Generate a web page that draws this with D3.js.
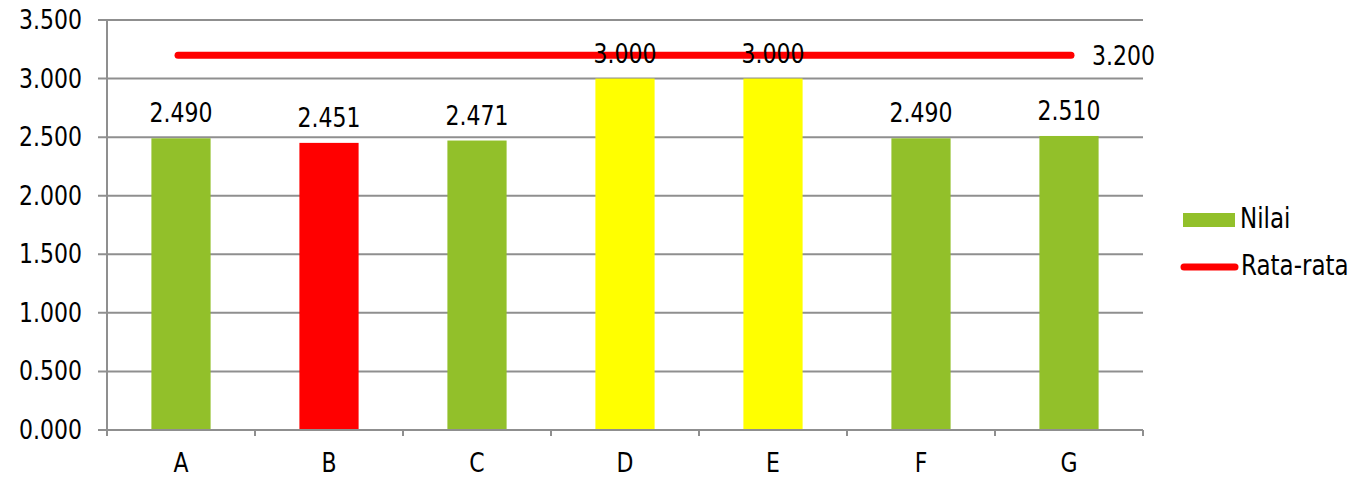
<!DOCTYPE html>
<html><head><meta charset="utf-8">
<script src="https://cdn.jsdelivr.net/npm/d3@7"></script>
<style>body{margin:0;background:#fff}svg{display:block}text{font-family:"DejaVu Sans",Verdana,sans-serif;fill:#000}</style>
</head><body>
<script>
const categories = ["A","B","C","D","E","F","G"];
const values = [2.490, 2.451, 2.471, 3.000, 3.000, 2.490, 2.510];
const barColors = ["#92C02A","#FF0000","#92C02A","#FFFF00","#FFFF00","#92C02A","#92C02A"];
const average = [3.2,3.2,3.2,3.2,3.2,3.2,3.2];
const yTicks = [0,0.5,1,1.5,2,2.5,3,3.5];
const legendLabels = ["Nilai","Rata-rata"];

const W=1358,H=478;
const L=107,R=1143,T=20,B=430;
const SY=1.2;
const svg=d3.select("body").append("svg").attr("width",W).attr("height",H);
const x=d3.scaleBand().domain(categories).range([L,R]).paddingInner(0).paddingOuter(0);
const y=d3.scaleLinear().domain([0,3.5]).range([B,T]);
const fmt=d3.format(".3f");
const grid="#8f8f8f";
const tr=(px,py)=>`translate(${px},${py}) scale(1,${SY})`;

// gridlines + y ticks
svg.append("g").selectAll("line").data(yTicks).join("line")
 .attr("x1",98).attr("x2",R).attr("y1",d=>y(d)).attr("y2",d=>y(d))
 .attr("stroke",grid).attr("stroke-width",2);
svg.append("g").selectAll("text").data(yTicks).join("text")
 .attr("transform",d=>tr(82,y(d)+9)).attr("text-anchor","end")
 .attr("font-size",22).text(d=>fmt(d));
// y axis
svg.append("line").attr("x1",L).attr("x2",L).attr("y1",T).attr("y2",B+6).attr("stroke",grid).attr("stroke-width",2);
// x ticks
const bounds=categories.map(c=>x(c)).concat([R]);
svg.append("g").selectAll("line").data(bounds.slice(1)).join("line")
 .attr("x1",d=>d).attr("x2",d=>d).attr("y1",B).attr("y2",B+6).attr("stroke",grid).attr("stroke-width",2);

// bars
const bw=x.bandwidth()*0.4;
svg.append("g").selectAll("rect").data(values).join("rect")
 .attr("x",(d,i)=>x(categories[i])+x.bandwidth()/2-bw/2)
 .attr("width",bw).attr("y",d=>y(d)).attr("height",d=>B-y(d))
 .attr("fill",(d,i)=>barColors[i]);
// x-axis line over bars
svg.append("line").attr("x1",98).attr("x2",R).attr("y1",B).attr("y2",B).attr("stroke",grid).attr("stroke-width",2);

// average line
const avgPts=average.map(d=>d);
svg.append("path").datum(avgPts)
 .attr("d",d3.line().x((d,i)=>i===0?x(categories[0])+x.bandwidth()*0.48:(i===avgPts.length-1?R-72:x(categories[i])+x.bandwidth()/2)).y(d=>y(d)))
 .attr("fill","none").attr("stroke","#FF0000").attr("stroke-width",7).attr("stroke-linecap","round");
svg.append("text").attr("transform",tr(R-51,y(average[average.length-1])+10))
 .attr("font-size",22).text(fmt(average[average.length-1]));

// bar labels
svg.append("g").selectAll("text").data(values).join("text")
 .attr("transform",(d,i)=>tr(x(categories[i])+x.bandwidth()/2,y(d)-16))
 .attr("text-anchor","middle").attr("font-size",22).text(d=>fmt(d));

// category labels
svg.append("g").selectAll("text").data(categories).join("text")
 .attr("transform",d=>tr(x(d)+x.bandwidth()/2,472))
 .attr("text-anchor","middle").attr("font-size",22).text(d=>d);

// legend
const lg=svg.append("g");
lg.append("rect").attr("x",1183).attr("y",213).attr("width",52).attr("height",14).attr("fill",barColors[0]);
lg.append("text").attr("transform",tr(1240,228)).attr("font-size",23).text(legendLabels[0]);
lg.append("line").attr("x1",1184).attr("x2",1235).attr("y1",267).attr("y2",267).attr("stroke","#FF0000").attr("stroke-width",7).attr("stroke-linecap","round");
lg.append("text").attr("transform",tr(1241,275)).attr("font-size",23).text(legendLabels[1]);
</script>
</body></html>
